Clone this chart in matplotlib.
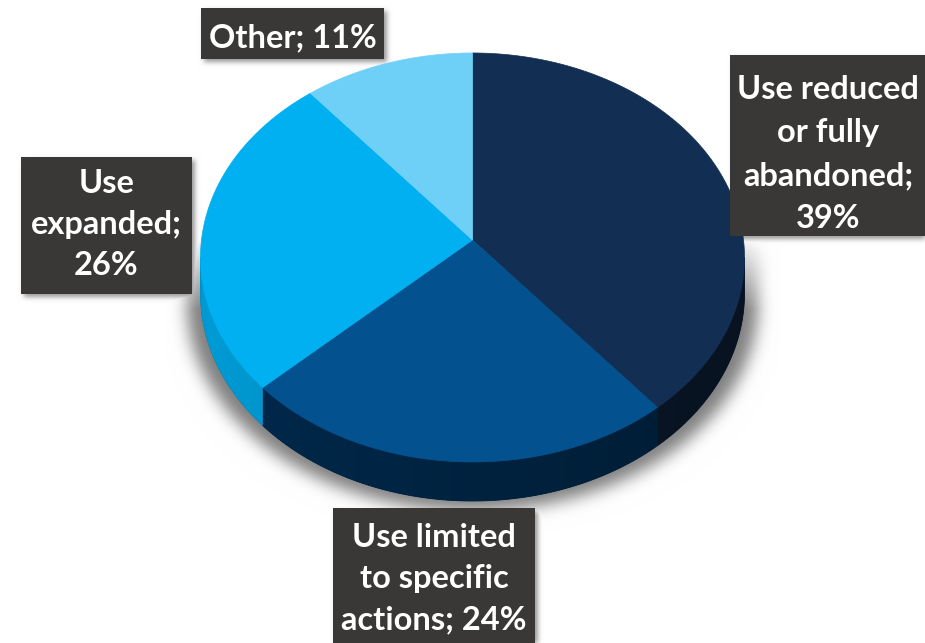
import numpy as np
import matplotlib.pyplot as plt
from matplotlib.colors import to_rgb
from matplotlib.patches import Polygon, Rectangle
from matplotlib.collections import PolyCollection
from matplotlib.path import Path

# slices, clockwise from 12 o'clock
names = ['Use reduced\nor fully\nabandoned', 'Use limited\nto specific\nactions',
         'Use\nexpanded', 'Other']
shares = [39, 24, 26, 11]
seps = ['\n', ' ', '\n', ' ']
top_colors = ['#132e53', '#03528f', '#00b0f0', '#6ed0f7']
side_colors = ['#0a1729', '#00223f', '#0080b0', '#3aa8d8']

W, H = 925, 643
cx, cy = 472.5, 240.0      # apex of the pie on screen
A, B, k = 271.0, 203.0, 0.0855   # ellipse radii and perspective factor
D = 35.7                   # thickness of the disc

# label boxes (x0, y0, x1, y1) and first baseline
boxes = [(730, 55, 930, 236), (333, 508, 535, 650), (21, 157, 192, 294), (201, 8, 384, 59)]
text_x = [828, 434, 106.5, 292.5]
first_base = [99, 547, 193, 47]
line_step = [43, 41, 41, 0]


def proj(t):
    w = 1 + k * np.sin(t)
    return cx + A * np.cos(t) / w, cy - B * np.sin(t) / w, w


def blur(a, s):
    r = int(3 * s)
    x = np.arange(-r, r + 1)
    g = np.exp(-x ** 2 / (2 * s * s))
    g /= g.sum()
    a = np.apply_along_axis(lambda m: np.convolve(m, g, mode='same'), 0, a)
    a = np.apply_along_axis(lambda m: np.convolve(m, g, mode='same'), 1, a)
    return a


fig = plt.figure(figsize=(9.25, 6.43), dpi=100)
ax = fig.add_axes([0, 0, 1, 1])
ax.set_xlim(0, W)
ax.set_ylim(H, 0)
ax.axis('off')

# outline of the whole disc (top back edge + bottom front edge)
t_r = -np.arcsin(k)
t_l = np.pi + np.arcsin(k)
tb = np.linspace(t_r, t_l, 200)
ub, vb, _ = proj(tb)
tf = np.linspace(t_l, t_r + 2 * np.pi, 200)
uf, vf, wf = proj(tf)
outline = np.r_[np.c_[ub, vb], np.c_[uf, vf + D / wf]]

# soft shadow under the disc and behind the label boxes
yy, xx = np.mgrid[0:H, 0:W] + 0.5
pts = np.c_[xx.ravel(), yy.ravel()]
sh = outline.copy()
sh[:, 0] = cx + (sh[:, 0] - cx) * 1.05
sh[:, 1] = sh[:, 1] + 10
disc = Path(sh).contains_points(pts).reshape(H, W).astype(float)
disc = blur(disc, 8)
ramp = np.clip((yy - 235) / 75, 0, 1)
dark = 0.5 * disc * ramp
rects = np.zeros((H, W))
for x0, y0, x1, y1 in boxes:
    rects[(yy > y0 + 3) & (yy < y1 + 3) & (xx > x0 + 3) & (xx < x1 + 3)] = 1
dark = np.maximum(dark, 0.4 * blur(rects, 2.5))
img = np.repeat((1 - dark)[:, :, None], 3, axis=2)
ax.imshow(img, extent=(0, W, H, 0), zorder=0, interpolation='bilinear')

# slice angles
bounds = np.pi / 2 - 2 * np.pi * np.r_[0, np.cumsum(shares)] / sum(shares)

# side walls on the front half: solid base, then shaded overlapping strips
polys, cols = [], []
ov = np.radians(0.5)
for i in range(len(shares)):
    a, b = bounds[i], bounds[i + 1]
    lo, hi = max(b, t_l - 2 * np.pi), min(a, t_r)
    if lo >= hi:
        continue
    ts = np.linspace(hi, lo, max(3, int(np.degrees(hi - lo)) + 1))
    u, v, w = proj(ts)
    wall = np.r_[np.c_[u, v], np.c_[u, v + D / w][::-1]]
    ax.add_patch(Polygon(wall, closed=True, facecolor=side_colors[i], edgecolor=side_colors[i],
                         linewidth=0.6, zorder=2))
    base = np.array(to_rgb(side_colors[i]))
    for t1, t2 in zip(ts[:-1], ts[1:]):
        t2e = max(t2 - ov, lo)
        u1, v1, w1 = proj(t1)
        u2, v2, w2 = proj(t2e)
        polys.append([(u1, v1), (u2, v2), (u2, v2 + D / w2), (u1, v1 + D / w1)])
        f = 1 + 0.22 * (-np.cos((t1 + t2) / 2))
        cols.append(np.clip(base * f, 0, 1))
ax.add_collection(PolyCollection(polys, facecolors=cols, edgecolors='none', linewidths=0, zorder=2.5))

# top faces
for i in range(len(shares)):
    ts = np.linspace(bounds[i], bounds[i + 1], 120)
    u, v, _ = proj(ts)
    poly = np.r_[[[cx, cy]], np.c_[u, v]]
    ax.add_patch(Polygon(poly, closed=True, facecolor=top_colors[i], edgecolor=top_colors[i],
                         linewidth=0.5, zorder=3))

# data labels
for i, (x0, y0, x1, y1) in enumerate(boxes):
    ax.add_patch(Rectangle((x0, y0), x1 - x0, y1 - y0, facecolor='#3a3836', edgecolor='none', zorder=4))
    text = f'{names[i]};{seps[i]}{shares[i]}%'
    for j, line in enumerate(text.split('\n')):
        ax.text(text_x[i], first_base[i] + j * line_step[i], line, ha='center', va='baseline',
                color='white', fontsize=23.5, fontweight='bold', family='Lato', zorder=5)

fig.savefig('out.png', dpi=100)
